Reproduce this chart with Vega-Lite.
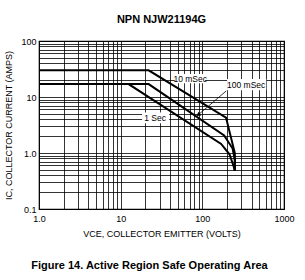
{
  "$schema": "https://vega.github.io/schema/vega-lite/v6.json",
  "padding": {"left": 4, "top": 13, "right": 18, "bottom": 2},
  "background": "white",
  "config": {
    "font": "Liberation Sans",
    "view": {"stroke": "#000", "strokeWidth": 1.2}
  },
  "title": {
    "text": "Figure 14. Active Region Safe Operating Area",
    "orient": "bottom",
    "anchor": "middle",
    "font": "Liberation Sans",
    "fontSize": 11,
    "fontWeight": "bold",
    "color": "#000",
    "offset": 21
  },
  "datasets": {
    "curves": [
      {"series": "10 mSec", "ord": 1, "V": 1, "I": 30},
      {"series": "10 mSec", "ord": 2, "V": 22, "I": 30},
      {"series": "10 mSec", "ord": 3, "V": 195, "I": 4.3},
      {"series": "10 mSec", "ord": 4, "V": 250, "I": 1.0},
      {"series": "10 mSec", "ord": 5, "V": 250, "I": 0.48},
      {"series": "100 mSec", "ord": 1, "V": 1, "I": 17},
      {"series": "100 mSec", "ord": 2, "V": 22, "I": 17},
      {"series": "100 mSec", "ord": 3, "V": 185, "I": 2.05},
      {"series": "100 mSec", "ord": 4, "V": 235, "I": 1.2},
      {"series": "100 mSec", "ord": 5, "V": 250, "I": 0.75},
      {"series": "100 mSec", "ord": 6, "V": 250, "I": 0.48},
      {"series": "1 Sec", "ord": 1, "V": 1, "I": 17},
      {"series": "1 Sec", "ord": 2, "V": 12.5, "I": 17},
      {"series": "1 Sec", "ord": 3, "V": 170, "I": 1.45},
      {"series": "1 Sec", "ord": 4, "V": 215, "I": 0.95},
      {"series": "1 Sec", "ord": 5, "V": 240, "I": 0.6},
      {"series": "1 Sec", "ord": 6, "V": 250, "I": 0.48}
    ],
    "boxes": [
      {"label": "10 mSec", "v1": 46, "v2": 108, "i1": 17.6, "i2": 25.7},
      {"label": "100 mSec", "v1": 201, "v2": 607, "i1": 13.2, "i2": 21},
      {"label": "1 Sec", "v1": 18.3, "v2": 39.3, "i1": 3.4, "i2": 5.3}
    ],
    "labels": [
      {"label": "10 mSec", "V": 71, "I": 21},
      {"label": "100 mSec", "V": 344, "I": 16.6},
      {"label": "1 Sec", "V": 26.4, "I": 4.2}
    ],
    "arrow": [
      {"v1": 196, "i1": 12.8, "v2": 89, "i2": 4.8}
    ]
  },
  "vconcat": [
    {
      "width": 245,
      "height": 168,
      "title": {
        "text": "NPN NJW21194G",
        "font": "Liberation Sans",
        "fontSize": 11,
        "fontWeight": "bold",
        "color": "#000",
        "offset": 12
      },
      "layer": [
        {
          "data": {"name": "boxes"},
          "mark": {"type": "rect", "fill": "white", "stroke": null},
          "encoding": {
            "x": {
              "field": "v1", "type": "quantitative",
              "scale": {"type": "log", "domain": [1, 1000], "nice": false},
              "axis": {
                "values": [1,2,3,4,5,6,7,8,9,10,20,30,40,50,60,70,80,90,100,200,300,400,500,600,700,800,900,1000],
                "grid": true, "gridColor": "#000", "gridWidth": 0.8,
                "ticks": false, "domain": false,
                "labelExpr": "datum.value == 1 ? '1.0' : datum.value == 10 ? '10' : datum.value == 100 ? '100' : datum.value == 1000 ? '1000' : ''",
                "labelOverlap": false, "labelFlush": false,
                "labelFontSize": 9, "labelColor": "#000", "labelPadding": 5,
                "title": "VCE, COLLECTOR EMITTER (VOLTS)",
                "titleFontSize": 9, "titleFontWeight": "normal", "titleColor": "#000", "titlePadding": 6
              }
            },
            "x2": {"field": "v2"},
            "y": {
              "field": "i1", "type": "quantitative",
              "scale": {"type": "log", "domain": [0.1, 100], "nice": false},
              "axis": {
                "values": [0.1,0.2,0.3,0.4,0.5,0.6,0.7,0.8,0.9,1,2,3,4,5,6,7,8,9,10,20,30,40,50,60,70,80,90,100],
                "grid": true, "gridColor": "#000", "gridWidth": 0.8,
                "ticks": false, "domain": false,
                "labelExpr": "datum.value == 0.1 ? '0.1' : datum.value == 1 ? '1.0' : datum.value == 10 ? '10' : datum.value == 100 ? '100' : ''",
                "labelOverlap": false, "labelFlush": false,
                "labelFontSize": 9, "labelColor": "#000", "labelPadding": 3,
                "title": "IC, COLLECTOR CURRENT (AMPS)",
                "titleFontSize": 9, "titleFontWeight": "normal", "titleColor": "#000", "titlePadding": 7
              }
            },
            "y2": {"field": "i2"}
          }
        },
        {
          "data": {"name": "curves"},
          "mark": {"type": "line", "stroke": "#000", "strokeWidth": 2, "strokeJoin": "miter"},
          "encoding": {
            "x": {"field": "V", "type": "quantitative"},
            "y": {"field": "I", "type": "quantitative"},
            "detail": {"field": "series"},
            "order": {"field": "ord"}
          }
        },
        {
          "data": {"name": "arrow"},
          "mark": {"type": "rule", "stroke": "#000", "strokeWidth": 0.8},
          "encoding": {
            "x": {"field": "v1", "type": "quantitative"},
            "y": {"field": "i1", "type": "quantitative"},
            "x2": {"field": "v2"},
            "y2": {"field": "i2"}
          }
        },
        {
          "data": {"name": "arrow"},
          "mark": {"type": "point", "shape": "triangle-up", "filled": true, "fill": "#000", "size": 22, "angle": 233, "opacity": 1},
          "encoding": {
            "x": {"field": "v2", "type": "quantitative"},
            "y": {"field": "i2", "type": "quantitative"}
          }
        },
        {
          "data": {"name": "labels"},
          "mark": {"type": "text", "fontSize": 8.5, "color": "#000", "align": "center", "baseline": "middle"},
          "encoding": {
            "x": {"field": "V", "type": "quantitative"},
            "y": {"field": "I", "type": "quantitative"},
            "text": {"field": "label"}
          }
        }
      ]
    }
  ]
}
